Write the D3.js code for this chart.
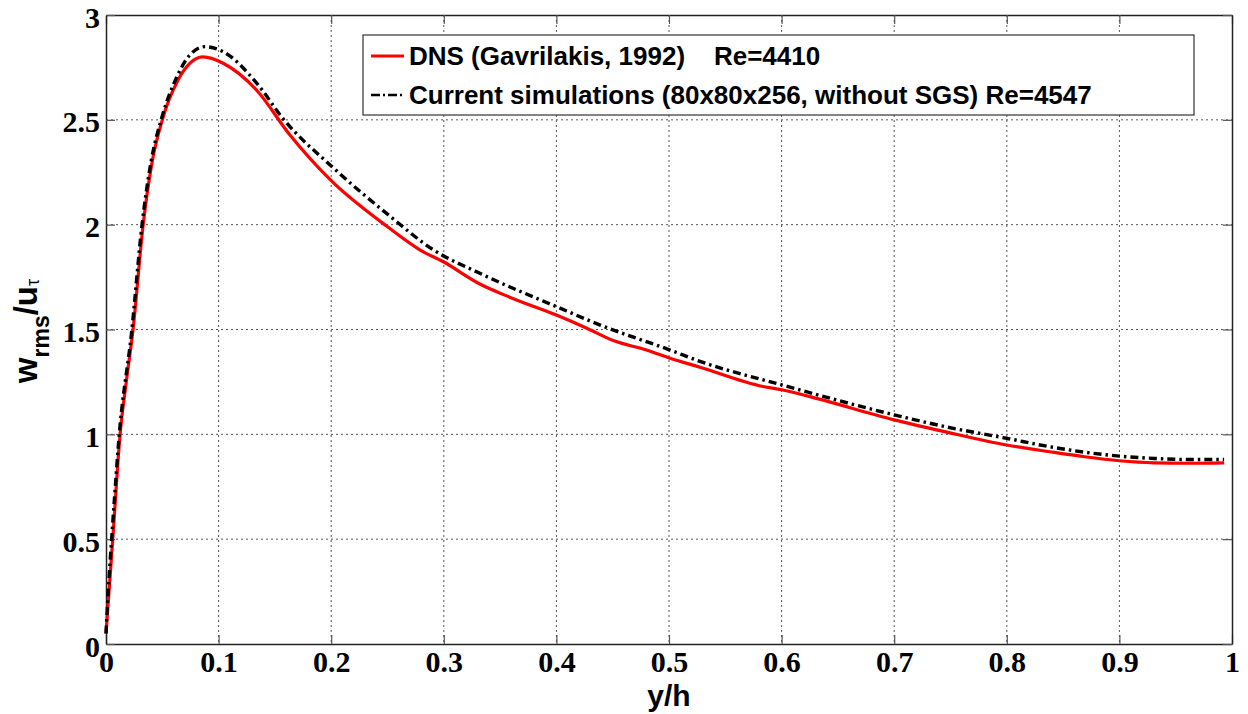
<!DOCTYPE html>
<html>
<head>
<meta charset="utf-8">
<script src="https://cdn.jsdelivr.net/npm/d3@7"></script>
<style>
  body { margin: 0; background: #fff; }
  svg { display: block; }
</style>
</head>
<body>
<svg id="chart" width="1248" height="714"></svg>
<script>
// DNS (Gavrilakis, 1992), Re=4410
const dnsY = [0, 0.002, 0.006, 0.0125, 0.018, 0.024, 0.033, 0.041, 0.05, 0.064, 0.0746, 0.086, 0.104, 0.134, 0.163, 0.2, 0.25, 0.279, 0.2996, 0.332, 0.359, 0.4, 0.427, 0.4505, 0.48, 0.501, 0.5275, 0.5835, 0.6, 0.63, 0.7, 0.7447, 0.8, 0.838, 0.869, 0.9, 0.931, 0.96, 0.993];
const dnsW = [0.05, 0.2, 0.5, 1.0, 1.25, 1.5, 2.0, 2.3, 2.5, 2.69, 2.77, 2.80, 2.77, 2.64, 2.43, 2.21, 1.99, 1.879, 1.823, 1.717, 1.653, 1.569, 1.506, 1.447, 1.402, 1.363, 1.320, 1.228, 1.2125, 1.1725, 1.069, 1.013, 0.949, 0.917, 0.893, 0.874, 0.864, 0.862, 0.864];

// current simulations (80x80x256, without SGS), Re=4547
const simY = [0, 0.002, 0.005, 0.008, 0.011, 0.023, 0.032, 0.04, 0.049, 0.063, 0.0746, 0.088, 0.104, 0.134, 0.157, 0.2, 0.25, 0.291, 0.332, 0.4, 0.439, 0.501, 0.5275, 0.6, 0.7, 0.745, 0.8, 0.838, 0.9, 0.931, 0.96, 0.993];
const simW = [0.05, 0.25, 0.5, 0.73, 0.95, 1.5, 2.0, 2.3, 2.5, 2.706, 2.81, 2.849, 2.825, 2.674, 2.507, 2.28, 2.05, 1.879, 1.768, 1.609, 1.521, 1.402, 1.348, 1.236, 1.093, 1.037, 0.981, 0.941, 0.896, 0.885, 0.88, 0.88];

const xTicks = [0, 0.1, 0.2, 0.3, 0.4, 0.5, 0.6, 0.7, 0.8, 0.9, 1];
const xTickLabels = ['0', '0.1', '0.2', '0.3', '0.4', '0.5', '0.6', '0.7', '0.8', '0.9', '1'];
const yTicks = [0, 0.5, 1, 1.5, 2, 2.5, 3];
const yTickLabels = ['0', '0.5', '1', '1.5', '2', '2.5', '3'];

const legendLabels = ['DNS (Gavrilakis, 1992)    Re=4410', 'Current simulations (80x80x256, without SGS) Re=4547'];

const margin = { top: 15, right: 16, bottom: 70, left: 106 };
const W = 1248, H = 714;
const w = W - margin.left - margin.right;
const h = H - margin.top - margin.bottom;

const svg = d3.select('#chart');
const g = svg.append('g').attr('transform', `translate(${margin.left},${margin.top})`);

const x = d3.scaleLinear().domain([0, 1]).range([0, w]);
const y = d3.scaleLinear().domain([0, 3]).range([h, 0]);

// grid
g.append('g')
    .selectAll('line')
    .data(xTicks.slice(1, -1))
    .join('line')
    .attr('x1', d => x(d)).attr('x2', d => x(d))
    .attr('y1', 0).attr('y2', h)
    .attr('stroke', '#555').attr('stroke-width', 1)
    .attr('stroke-dasharray', '2,3');
g.append('g')
    .selectAll('line')
    .data(yTicks.slice(1, -1))
    .join('line')
    .attr('x1', 0).attr('x2', w)
    .attr('y1', d => y(d)).attr('y2', d => y(d))
    .attr('stroke', '#555').attr('stroke-width', 1)
    .attr('stroke-dasharray', '2,3');

// axes, ticks pointing inward like matlab
const fmtX = d => xTickLabels[xTicks.indexOf(d)];
const fmtY = d => yTickLabels[yTicks.indexOf(d)];

const xAxis = g.append('g').attr('transform', `translate(0,${h})`)
    .call(d3.axisBottom(x).tickValues(xTicks).tickFormat(fmtX).tickSizeInner(-9).tickSizeOuter(0).tickPadding(15));
const xTop = g.append('g')
    .call(d3.axisTop(x).tickValues(xTicks).tickFormat('').tickSizeInner(-9).tickSizeOuter(0));
const yAxis = g.append('g')
    .call(d3.axisLeft(y).tickValues(yTicks).tickFormat(fmtY).tickSizeInner(-9).tickSizeOuter(0).tickPadding(6));
const yRight = g.append('g').attr('transform', `translate(${w},0)`)
    .call(d3.axisRight(y).tickValues(yTicks).tickFormat('').tickSizeInner(-9).tickSizeOuter(0));

[xAxis, xTop, yAxis, yRight].forEach(a => {
    a.attr('font-family', '"Liberation Serif", "Times New Roman", serif')
        .attr('font-size', 30)
        .attr('font-weight', 'bold');
    a.select('.domain').attr('stroke', '#222').attr('stroke-width', 1.5);
    a.selectAll('.tick line').attr('stroke', '#555').attr('stroke-width', 1.2);
    a.selectAll('.tick text').attr('fill', '#000');
});
xAxis.selectAll('.tick text').attr('dy', '0.42em');
yAxis.selectAll('.tick text').attr('dy', '0.4em');

// curves
const line = d3.line()
    .x(d => x(d[0]))
    .y(d => y(d[1]))
    .curve(d3.curveMonotoneX);

g.append('path')
    .datum(dnsY.map((v, i) => [v, dnsW[i]]))
    .attr('d', line)
    .attr('fill', 'none')
    .attr('stroke', '#ff0000')
    .attr('stroke-width', 3.2)
    .attr('stroke-linejoin', 'round');

g.append('path')
    .datum(simY.map((v, i) => [v, simW[i]]))
    .attr('d', line)
    .attr('fill', 'none')
    .attr('stroke', '#000')
    .attr('stroke-width', 3.4)
    .attr('stroke-dasharray', '8,4,2.5,4');

// legend
const legend = svg.append('g').attr('transform', 'translate(363,35)');
legend.append('rect')
    .attr('width', 831).attr('height', 80)
    .attr('fill', '#fff').attr('stroke', '#333').attr('stroke-width', 1.2);

const legendStyles = [
    { stroke: '#ff0000', dash: null },
    { stroke: '#000', dash: '9,3,2,3' }
];
legendLabels.forEach((lbl, i) => {
    const ry = 21 + i * 39;
    legend.append('line')
        .attr('x1', 8).attr('x2', 41).attr('y1', ry).attr('y2', ry)
        .attr('stroke', legendStyles[i].stroke)
        .attr('stroke-width', i === 0 ? 3 : 2.5)
        .attr('stroke-dasharray', legendStyles[i].dash);
    legend.append('text')
        .attr('x', 46).attr('y', ry)
        .attr('dy', '0.36em')
        .style('white-space', 'pre')
        .attr('font-family', '"Liberation Sans", Arial, sans-serif')
        .attr('font-weight', 'bold')
        .attr('font-size', 26)
        .text(lbl);
});

// axis labels
svg.append('text')
    .attr('x', margin.left + w / 2)
    .attr('y', 706)
    .attr('text-anchor', 'middle')
    .attr('font-family', '"Liberation Sans", Arial, sans-serif')
    .attr('font-weight', 'bold')
    .attr('font-size', 30)
    .text('y/h');

const yl = svg.append('text')
    .attr('transform', 'translate(37,331) rotate(-90)')
    .attr('text-anchor', 'middle')
    .attr('font-family', '"Liberation Sans", Arial, sans-serif')
    .attr('font-weight', 'bold')
    .attr('font-size', 33);
yl.append('tspan').text('w');
yl.append('tspan').attr('font-size', 23).attr('dy', 12).text('rms');
yl.append('tspan').attr('dy', -12).text('/u');
yl.append('tspan').attr('font-size', 18).attr('dy', 2).attr('font-weight', 'normal').text('τ');
</script>
</body>
</html>
